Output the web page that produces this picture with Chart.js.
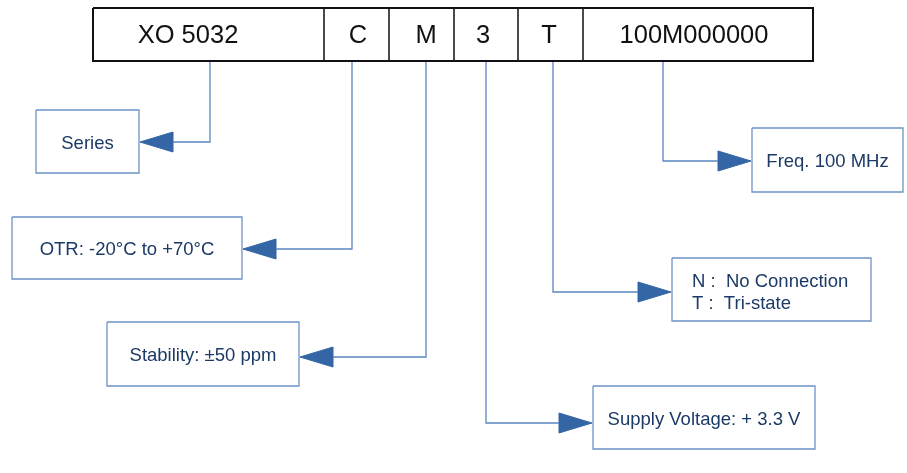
<!DOCTYPE html>
<html>
<head>
<meta charset="utf-8">
<script src="https://cdn.jsdelivr.net/npm/chart.js@4.4.0/dist/chart.umd.min.js"></script>
<style>
  body { margin: 0; background: #ffffff; }
  #wrap { width: 907px; height: 473px; position: relative; }
</style>
</head>
<body>
<div id="wrap"><canvas id="myChart"></canvas></div>
<script>
// part number fields and what each one means
var codes = ['XO 5032', 'C', 'M', '3', 'T', '100M000000']
var meanings = [
    ['Series'],
    ['OTR: -20°C to +70°C'],
    ['Stability: ±50 ppm'],
    ['Supply Voltage: + 3.3 V'],
    ['N :  No Connection', 'T :  Tri-state'],
    ['Freq. 100 MHz']
]

// layout (pixel units of the 907x473 page)
var cellEdges = [93, 324, 389, 454, 518, 583, 813]
var barTop = 8, barBottom = 61
var codeTextX = [188, 358, 426, 483, 549, 694]
var leaderX = [210, 352, 426, 486, 553, 663]
var leaderY = [142, 249, 357, 423, 292, 161]
var boxes = [
    [36, 110, 139, 173],
    [12, 217, 242, 279],
    [107, 322, 299, 386],
    [593, 386, 815, 449],
    [672, 258, 871, 321],
    [752, 128, 903, 192]
]
var boxSide = ['left', 'left', 'left', 'right', 'right', 'right']
var arrowLen = 33, arrowHalf = 10

var lineColor = '#5a86c2'
var boxColor = '#6f93c8'
var arrowColor = '#3465a4'
var textColor = '#1b3a66'

function rect(x1, y1, x2, y2) {
    return [{x: x1, y: y1}, {x: x2, y: y1}, {x: x2, y: y2}, {x: x1, y: y2}, {x: x1, y: y1}]
}

var datasets = []

// code bar
datasets.push({data: rect(cellEdges[0], barTop, cellEdges[cellEdges.length - 1], barBottom), borderColor: '#111111', borderWidth: 2})
for (var i = 1; i < cellEdges.length - 1; i++) {
    datasets.push({data: [{x: cellEdges[i], y: barTop}, {x: cellEdges[i], y: barBottom}], borderColor: '#111111', borderWidth: 1.5})
}

for (var i = 0; i < codes.length; i++) {
    var b = boxes[i]
    var tipX = boxSide[i] == 'left' ? b[2] + 1 : b[0] - 1
    var baseX = boxSide[i] == 'left' ? tipX + arrowLen : tipX - arrowLen
    // leader line
    datasets.push({data: [{x: leaderX[i], y: barBottom + 1}, {x: leaderX[i], y: leaderY[i]}, {x: baseX, y: leaderY[i]}], borderColor: lineColor, borderWidth: 1.3})
    // description box
    datasets.push({data: rect(b[0], b[1], b[2], b[3]), borderColor: boxColor, borderWidth: 1.3})
    // arrow head
    datasets.push({
        data: [{x: baseX, y: leaderY[i] - arrowHalf}, {x: tipX, y: leaderY[i]}, {x: baseX, y: leaderY[i] + arrowHalf}, {x: baseX, y: leaderY[i] - arrowHalf}],
        borderColor: arrowColor, borderWidth: 1, backgroundColor: arrowColor, fill: 'shape'
    })
}

var textPlugin = {
    id: 'diagramText',
    afterDatasetsDraw: function(chart) {
        var ctx = chart.ctx
        var xs = chart.scales.x, ys = chart.scales.y
        ctx.save()
        ctx.textBaseline = 'middle'
        ctx.fillStyle = '#111111'
        ctx.font = '25.5px "Liberation Sans", Arial, sans-serif'
        ctx.textAlign = 'center'
        for (var i = 0; i < codes.length; i++) {
            ctx.fillText(codes[i], xs.getPixelForValue(codeTextX[i]), ys.getPixelForValue((barTop + barBottom) / 2 + 1))
        }
        ctx.fillStyle = textColor
        ctx.font = '18.5px "Liberation Sans", Arial, sans-serif'
        for (var i = 0; i < meanings.length; i++) {
            var b = boxes[i]
            var lines = meanings[i]
            var cy = (b[1] + b[3]) / 2
            if (lines.length == 1) {
                ctx.textAlign = 'center'
                ctx.fillText(lines[0], xs.getPixelForValue((b[0] + b[2]) / 2), ys.getPixelForValue(cy + 2))
            } else {
                ctx.textAlign = 'left'
                for (var j = 0; j < lines.length; j++) {
                    ctx.fillText(lines[j], xs.getPixelForValue(b[0] + 20), ys.getPixelForValue(cy - 9 + j * 22 + 1))
                }
            }
        }
        ctx.restore()
    }
}

var ctx = document.getElementById('myChart')
var myChart = new Chart(ctx, {
    type: 'scatter',
    data: {datasets: datasets},
    options: {
        responsive: true,
        maintainAspectRatio: false,
        animation: false,
        layout: {padding: 0},
        datasets: {
            scatter: {showLine: true, pointRadius: 0, pointHoverRadius: 0, tension: 0}
        },
        plugins: {legend: {display: false}, tooltip: {enabled: false}},
        scales: {
            x: {type: 'linear', min: 0, max: 907, display: false},
            y: {type: 'linear', min: 0, max: 473, reverse: true, display: false}
        }
    },
    plugins: [textPlugin]
});
</script>
</body>
</html>
